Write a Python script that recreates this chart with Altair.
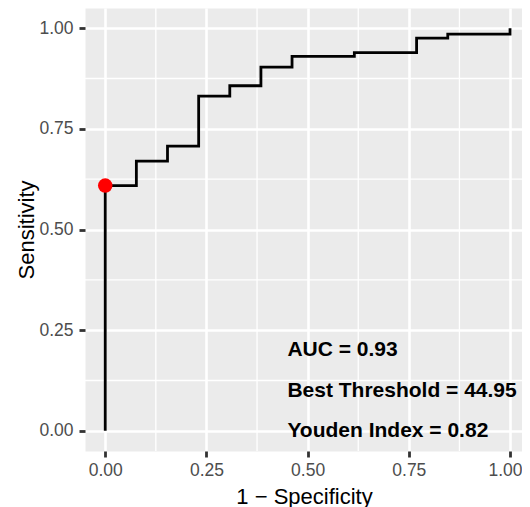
import altair as alt
import pandas as pd

# ROC curve vertices (1 - specificity, sensitivity)
fpr = [0.0, 0.0, 0.0769, 0.0769, 0.1538, 0.1538, 0.2308, 0.2308, 0.3077, 0.3077,
       0.3846, 0.3846, 0.4615, 0.4615, 0.6154, 0.6154, 0.7692, 0.7692, 0.8462, 0.8462,
       1.0, 1.0]
tpr = [0.0, 0.609, 0.609, 0.670, 0.670, 0.707, 0.707, 0.831, 0.831, 0.857,
       0.857, 0.903, 0.903, 0.930, 0.930, 0.939, 0.939, 0.975, 0.975, 0.985,
       0.985, 1.0]

best_fpr = [0.0]
best_tpr = [0.609]

label_text = ["AUC = 0.93", "Best Threshold = 44.95", "Youden Index = 0.82"]
label_x = [0.45, 0.45, 0.45]
label_y = [0.2, 0.1, 0.0]

major_ticks = [0.0, 0.25, 0.5, 0.75, 1.0]
minor_ticks = [0.125, 0.375, 0.625, 0.875]

FONT = "Liberation Sans"

roc_df = pd.DataFrame({"fpr": fpr, "tpr": tpr, "idx": list(range(len(fpr)))})
best_df = pd.DataFrame({"fpr": best_fpr, "tpr": best_tpr})
lab_df = pd.DataFrame({"fpr": label_x, "tpr": label_y, "text": label_text})
minor_df = pd.DataFrame({"fpr": minor_ticks, "tpr": minor_ticks})

xscale = alt.Scale(domain=[-0.05, 1.0296], nice=False, zero=False)
yscale = alt.Scale(domain=[-0.05, 1.05], nice=False, zero=False)

common_axis = dict(
    values=major_ticks, format=".2f", domain=False,
    labelFont=FONT, labelFontSize=17.5, labelColor="#4D4D4D",
    tickColor="#333333", tickWidth=2.8, tickSize=6,
    grid=True, gridColor="white", gridWidth=2.6,
    titleFont=FONT, titleFontSize=22, titleColor="black", titleFontWeight="normal",
)

xaxis = alt.Axis(title="1 − Specificity", labelPadding=4,
                 labelFlush=15, labelFlushOffset=12,
                 titleX=219, titleY=52, titleBaseline="alphabetic", titleAlign="center",
                 **common_axis)
yaxis = alt.Axis(title="Sensitivity", labelPadding=6,
                 titleX=-52, titleY=221.5, titleAngle=-90, titleBaseline="alphabetic",
                 titleAlign="center", **common_axis)

minor_v = alt.Chart(minor_df).mark_rule(color="white", strokeWidth=1.3).encode(
    x=alt.X("fpr:Q", scale=xscale, axis=xaxis)
)
minor_h = alt.Chart(minor_df).mark_rule(color="white", strokeWidth=1.3).encode(
    y=alt.Y("tpr:Q", scale=yscale, axis=yaxis)
)

line = alt.Chart(roc_df).mark_line(color="black", strokeWidth=2.8, strokeCap="butt").encode(
    x=alt.X("fpr:Q", scale=xscale, axis=xaxis),
    y=alt.Y("tpr:Q", scale=yscale, axis=yaxis),
    order="idx:Q",
)

point = alt.Chart(best_df).mark_circle(color="#FF0000", size=210, opacity=1).encode(
    x=alt.X("fpr:Q", scale=xscale, axis=xaxis),
    y=alt.Y("tpr:Q", scale=yscale, axis=yaxis),
)

labels = alt.Chart(lab_df).mark_text(
    align="left", baseline="middle", font=FONT, fontSize=21, fontWeight="bold", color="black"
).encode(
    x=alt.X("fpr:Q", scale=xscale, axis=xaxis),
    y=alt.Y("tpr:Q", scale=yscale, axis=yaxis),
    text="text:N",
)

chart = alt.layer(minor_v, minor_h, line, point, labels).properties(
    width=437,
    height=443,
    autosize=alt.AutoSizeParams(type="none"),
    padding={"left": 77, "top": 0, "right": 0, "bottom": 56},
).configure_view(fill="#EBEBEB", stroke="transparent")

chart.save("out.html", embed_options={"renderer": "svg", "actions": False})
